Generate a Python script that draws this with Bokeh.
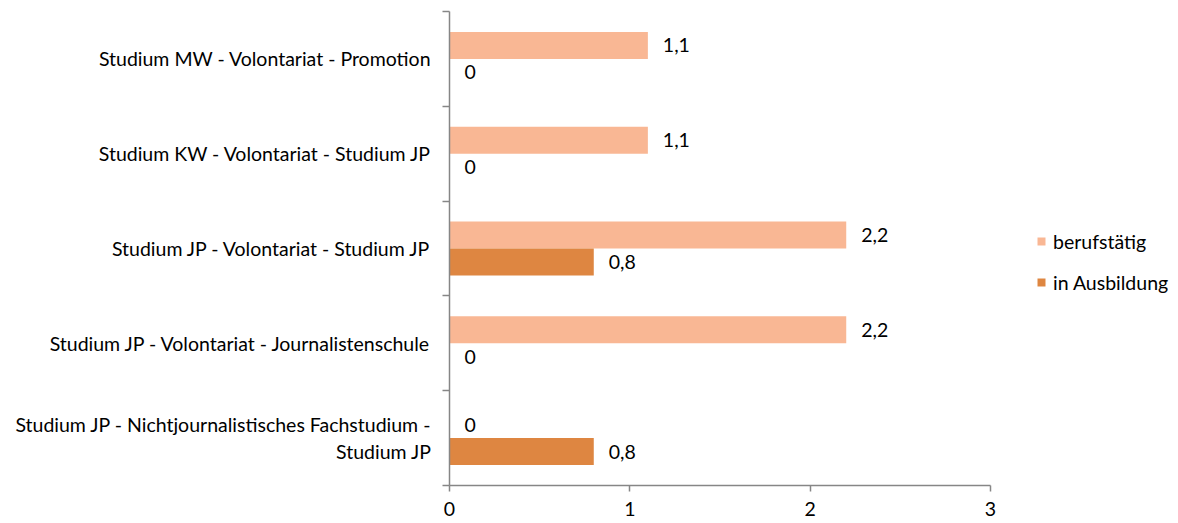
from bokeh.plotting import figure
from bokeh.models import ColumnDataSource, FixedTicker, Range1d, Legend, LegendItem, LabelSet
from bokeh.core.properties import value
from bokeh.embed import file_html
from bokeh.resources import INLINE

# data (bottom to top)
categories = [
    "Studium JP - Nichtjournalistisches Fachstudium -\nStudium JP",
    "Studium JP - Volontariat - Journalistenschule",
    "Studium JP - Volontariat - Studium JP",
    "Studium KW - Volontariat - Studium JP",
    "Studium MW - Volontariat - Promotion",
]
berufstaetig = [0, 2.2, 2.2, 1.1, 1.1]
ausbildung = [0.8, 0, 0.8, 0, 0]
series_names = ["berufstätig", "in Ausbildung"]
x_ticks = [0, 1, 2, 3]

FONT = "Lato"
FS = "19.5px"
C_LIGHT = "#F9B794"
C_DARK = "#DE8641"
AX = "#868686"

n = len(categories)
centers = [i + 0.5 for i in range(n)]
bounds = [i for i in range(n + 1)]
bar_h = 0.285

def fmt(v):
    return ("%g" % v).replace(".", ",")

src = ColumnDataSource(dict(
    yb=[c + bar_h / 2 for c in centers],
    ya=[c - bar_h / 2 for c in centers],
    b=berufstaetig, a=ausbildung,
    bl=[fmt(v) for v in berufstaetig],
    al=[fmt(v) for v in ausbildung],
))

p = figure(frame_width=541, frame_height=474, width=1178, height=523,
           x_range=Range1d(0, 3), y_range=Range1d(0, n),
           output_backend="svg", toolbar_location=None,
           min_border_left=449, min_border_right=188, min_border_top=11, min_border_bottom=38)
p.outline_line_color = None
p.grid.grid_line_color = None
p.background_fill_color = "white"
p.border_fill_color = "white"

rb = p.hbar(y="yb", right="b", left=0, height=bar_h, source=src, fill_color=C_LIGHT, line_color=None)
ra = p.hbar(y="ya", right="a", left=0, height=bar_h, source=src, fill_color=C_DARK, line_color=None)

for col_x, col_y, col_t in (("b", "yb", "bl"), ("a", "ya", "al")):
    p.add_layout(LabelSet(x=col_x, y=col_y, text=col_t, source=src, x_offset=15,
                          text_baseline="middle", text_align="left",
                          text_font=value(FONT), text_font_size=value(FS), text_color="#000000"))

# y axis
ya = p.yaxis[0]
ya.ticker = FixedTicker(ticks=centers, minor_ticks=bounds)
ya.major_label_overrides = {c: lab for c, lab in zip(centers, categories)}
ya.major_tick_line_color = None
ya.major_tick_out = 0
ya.major_tick_in = 0
ya.minor_tick_line_color = AX
ya.minor_tick_out = 7
ya.minor_tick_in = 0
ya.axis_line_color = AX
ya.axis_line_width = 1.5
ya.minor_tick_line_width = 1.5
ya.major_label_standoff = 11
ya.major_label_text_font = FONT
ya.major_label_text_font_size = FS
ya.major_label_text_color = "#000000"

# x axis
xa = p.xaxis[0]
xa.ticker = FixedTicker(ticks=x_ticks)
xa.major_label_overrides = {t: str(t) for t in x_ticks}
xa.minor_tick_line_color = None
xa.major_tick_line_color = AX
xa.major_tick_out = 6
xa.major_tick_in = 0
xa.major_tick_line_width = 1.5
xa.axis_line_color = AX
xa.axis_line_width = 1.5
xa.major_label_standoff = 10
xa.major_label_text_font = FONT
xa.major_label_text_font_size = FS
xa.major_label_text_color = "#000000"

legend = Legend(items=[LegendItem(label=series_names[0], renderers=[rb]),
                       LegendItem(label=series_names[1], renderers=[ra])],
                location=(46, 191), orientation="vertical",
                glyph_width=10, glyph_height=10, label_standoff=7,
                spacing=17, padding=0, margin=0,
                border_line_color=None, background_fill_alpha=0,
                label_text_font=FONT, label_text_font_size=FS, label_text_color="#000000",
                label_height=24)
p.add_layout(legend, "right")

open("out.html", "w").write(file_html(p, INLINE))
